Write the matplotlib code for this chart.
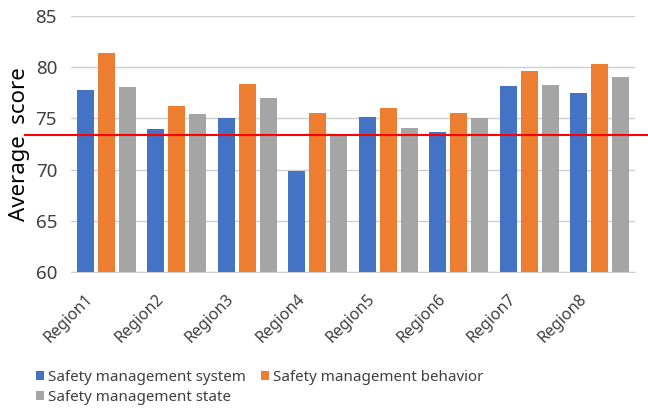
import matplotlib
matplotlib.use("Agg")
import matplotlib.pyplot as plt
import matplotlib.transforms as mtransforms
import numpy as np

plt.rcParams['font.family'] = ['Noto Sans', 'DejaVu Sans']

regions = ['Region1', 'Region2', 'Region3', 'Region4',
           'Region5', 'Region6', 'Region7', 'Region8']
system = [77.8, 74.0, 75.0, 69.9, 75.1, 73.7, 78.2, 77.5]
behavior = [81.4, 76.2, 78.4, 75.5, 76.0, 75.5, 79.6, 80.3]
state = [78.1, 75.4, 77.0, 73.4, 74.1, 75.0, 78.3, 79.0]
average = 73.35

x = np.arange(len(regions))
w = 0.24
step = 0.3

fig = plt.figure(figsize=(6.48, 4.17), dpi=100)
ax = fig.add_axes([71 / 648, 1 - 272 / 417, 564 / 648, 256 / 417])

b1 = ax.bar(x - step, system, w, color='#4472C4', label='Safety management system', zorder=3)
b2 = ax.bar(x, behavior, w, color='#ED7D31', label='Safety management behavior', zorder=3)
b3 = ax.bar(x + step, state, w, color='#A5A5A5', label='Safety management state', zorder=3)

ax.axhline(average, xmin=-0.082, xmax=1.03, color='red', lw=1.5, clip_on=False, zorder=4)

ax.set_ylim(60, 85)
ax.set_yticks([60, 65, 70, 75, 80, 85])
ax.set_xlim(-0.5, len(regions) - 0.5)
ax.grid(axis='y', color='#CFCFCF', lw=1, zorder=0)
for s in ['top', 'right', 'left']:
    ax.spines[s].set_visible(False)
ax.spines['bottom'].set_color('#CFCFCF')
ax.tick_params(length=0, colors='#404040')
ax.tick_params(axis='y', labelsize=13.5, pad=10)
ax.tick_params(axis='x', labelsize=11.5, pad=14)

ax.set_xticks(x)
ax.set_xticklabels(regions, rotation=45, ha='right')
offset = mtransforms.ScaledTranslation(-10 / 100, 0, fig.dpi_scale_trans)
for lab in ax.get_xticklabels():
    lab.set_transform(lab.get_transform() + offset)

ax.set_ylabel('Average  score', fontsize=16, color='black', labelpad=4)

fig.legend([b1, b3, b2],
           ['Safety management system', 'Safety management state', 'Safety management behavior'],
           ncol=2, loc='upper left', bbox_to_anchor=(22 / 648, 1 - 356 / 417),
           frameon=False, fontsize=10.9, handlelength=0.55, handleheight=0.55,
           handletextpad=0.25, columnspacing=1.0, labelspacing=0.35,
           labelcolor='#404040')

fig.savefig('out.png', dpi=100)
